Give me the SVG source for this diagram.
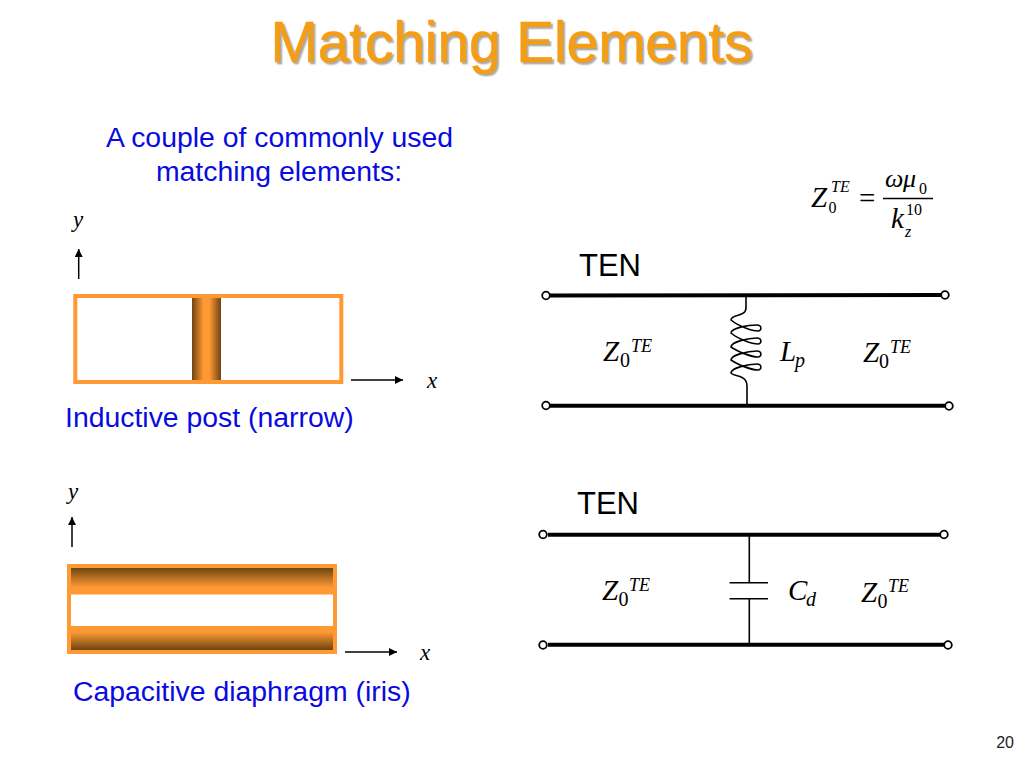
<svg xmlns="http://www.w3.org/2000/svg" width="1024" height="768" viewBox="0 0 1024 768">
<style>
.sans{font-family:"Liberation Sans",Arial,sans-serif}
.serif{font-family:"Liberation Serif","Times New Roman",serif;fill:#000}
.i{font-style:italic}
.title{font-size:56.700px;fill:#ff9c00;stroke:#ff9c00;stroke-width:.6;text-shadow:2px 2px 1.5px #a8a8a8}
.body{font-size:28.400px;fill:#0a0ae0}
.ten{font-size:31px;fill:#000}
.z{font-size:29px}
.num{font-size:26px}
.sub{font-size:20px}
.sup{font-size:18px}
.eq{font-size:16px}
.axis{font-size:23px}
.wire{stroke:#000;stroke-width:1.6;fill:none}
.rail{stroke:#000;stroke-width:4;fill:none}
.term{fill:#fff;stroke:#000;stroke-width:1.8}
.frame{fill:none;stroke:#ff9933;stroke-width:4}
.ax{stroke:#000;stroke-width:1.5;fill:none;marker-end:url(#arrow)}
</style>
<defs>
<marker id="arrow" markerUnits="userSpaceOnUse" markerWidth="10" markerHeight="10" refX="8" refY="4" orient="auto"><path d="M0 0L8 4L0 8Z" fill="#000"/></marker>
<linearGradient id="post" x1="0" y1="0" x2="1" y2="0"><stop offset="0" stop-color="#6e4512"/><stop offset=".4" stop-color="#ff9933"/><stop offset=".6" stop-color="#ff9933"/><stop offset="1" stop-color="#6e4512"/></linearGradient>
<linearGradient id="irisTop" x1="0" y1="0" x2="0" y2="1"><stop offset="0" stop-color="#6e4512"/><stop offset=".75" stop-color="#ff9933"/></linearGradient>
<linearGradient id="irisBot" x1="0" y1="1" x2="0" y2="0"><stop offset="0" stop-color="#6e4512"/><stop offset=".75" stop-color="#ff9933"/></linearGradient>
</defs>
<rect width="1024" height="768" fill="#fff"/>
<g id="title"><text class="sans title" x="511.500" y="62" text-anchor="middle">Matching Elements</text></g>
<g id="intro" class="sans body" text-anchor="middle">
<text x="279.500" y="147">A couple of commonly used</text>
<text x="279" y="181">matching elements:</text>
</g>
<g id="formula">
<text class="serif i z" x="811" y="207">Z</text>
<text class="serif i eq" x="831" y="192">TE</text>
<text class="serif eq" x="828.500" y="213">0</text>
<text class="serif z" x="859" y="208">=</text>
<text class="serif i num" x="885" y="187">ω</text>
<text class="serif i num" x="903" y="187">μ</text>
<text class="serif eq" x="919" y="194">0</text>
<line x1="883" y1="198.500" x2="933" y2="198.500" stroke="#000" stroke-width="1.3"/>
<text class="serif i z" x="891" y="228">k</text>
<text class="serif eq" x="906" y="215">10</text>
<text class="serif i eq" x="905" y="237">z</text>
</g>
<g id="inductive-post">
<rect x="192" y="296" width="29" height="86" fill="url(#post)"/>
<rect class="frame" x="75.300" y="296" width="266" height="86"/>
<text class="serif i axis" x="73" y="227">y</text>
<text class="serif i axis" x="427" y="388">x</text>
<text class="sans body" x="65" y="427">Inductive post (narrow)</text>
</g>
<g id="capacitive-iris">
<rect x="71" y="568" width="262" height="26" fill="url(#irisTop)"/>
<rect x="71" y="626" width="262" height="24" fill="url(#irisBot)"/>
<rect class="frame" x="69" y="566" width="266" height="86"/>
<rect x="71" y="593.500" width="262" height="1" fill="#ff9933"/>
<text class="serif i axis" x="68" y="499">y</text>
<text class="serif i axis" x="420" y="660">x</text>
<text class="sans body" x="73" y="701">Capacitive diaphragm (iris)</text>
</g>
<g id="connectors">
<path class="ax" d="M78.700 279V249"/>
<path class="ax" d="M351 380H403"/>
<path class="ax" d="M72 547V517"/>
<path class="ax" d="M345 652H397"/>
<path class="wire" d="M746 297V308C746 317 731 314 731 320C738 326 752 331 758 331C762 331 762 325 757 325C748 325 731 328 731 333C738 339 752 344 758 344C762 344 762 338 757 338C748 338 731 342 731 347C738 352 752 357 758 357C762 357 762 351 757 351C748 351 731 355 731 360C738 365 752 370 758 370C762 370 762 364 757 364C748 364 731 368 731 373C733 377 747 374 747 386V405"/>
<path class="wire" d="M749.300 535V582.700M729.500 582.700H768M729.500 598.700H768M749.300 598.700V645"/>
</g>
<g id="ten-inductive">
<text class="sans ten" x="579" y="276">TEN</text>
<line class="rail" x1="548" y1="295.500" x2="941" y2="295"/>
<line class="rail" x1="548" y1="405.700" x2="946" y2="405.700"/>
<circle class="term" cx="546" cy="295.500" r="3.800"/>
<circle class="term" cx="945" cy="295" r="3.800"/>
<circle class="term" cx="546" cy="405.500" r="3.800"/>
<circle class="term" cx="949" cy="406" r="3.800"/>
<text class="serif i z" x="603" y="361">Z</text>
<text class="serif sub" x="620" y="367">0</text>
<text class="serif i sup" x="631" y="352">TE</text>
<text class="serif i z" x="780" y="361">L</text>
<text class="serif i sub" x="795" y="367">p</text>
<text class="serif i z" x="863" y="362">Z</text>
<text class="serif sub" x="879" y="368">0</text>
<text class="serif i sup" x="890" y="353">TE</text>
</g>
<g id="ten-capacitive">
<text class="sans ten" x="577" y="514">TEN</text>
<line class="rail" x1="548" y1="534.700" x2="941" y2="534.700"/>
<line class="rail" x1="548" y1="644.700" x2="946" y2="644.700"/>
<circle class="term" cx="543" cy="534.500" r="3.800"/>
<circle class="term" cx="944" cy="534.500" r="3.800"/>
<circle class="term" cx="543" cy="645" r="3.800"/>
<circle class="term" cx="948" cy="645" r="3.800"/>
<text class="serif i z" x="602" y="600">Z</text>
<text class="serif sub" x="618.500" y="606">0</text>
<text class="serif i sup" x="629" y="591">TE</text>
<text class="serif i z" x="788" y="600">C</text>
<text class="serif i sub" x="806" y="606">d</text>
<text class="serif i z" x="861" y="602">Z</text>
<text class="serif sub" x="877.500" y="608">0</text>
<text class="serif i sup" x="888" y="592">TE</text>
</g>
<g id="page-number"><text class="sans" x="1014" y="748" text-anchor="end" font-size="16" fill="#222">20</text></g>
</svg>
